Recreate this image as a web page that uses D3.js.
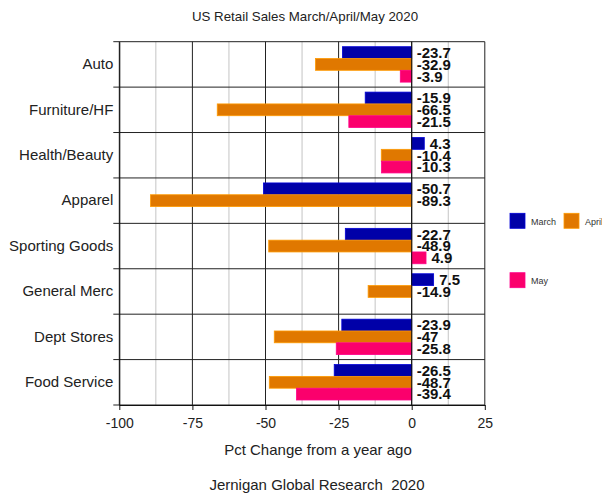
<!DOCTYPE html>
<html>
<head>
<meta charset="utf-8">
<script src="https://cdn.jsdelivr.net/npm/d3@7"></script>
<style>
  html, body { margin: 0; padding: 0; background: #fff; }
  svg { display: block; font-family: "Liberation Sans", Arial, sans-serif; }
</style>
</head>
<body>
<svg id="chart" width="602" height="494"></svg>
<script>
const categories = ["Auto", "Furniture/HF", "Health/Beauty", "Apparel", "Sporting Goods", "General Merc", "Dept Stores", "Food Service"];
const seriesNames = ["March", "April", "May"];
const march = [-23.7, -15.9, 4.3, -50.7, -22.7, 7.5, -23.9, -26.5];
const april = [-32.9, -66.5, -10.4, -89.3, -48.9, -14.9, -47, -48.7];
const may = [-3.9, -21.5, -10.3, null, 4.9, null, -25.8, -39.4];
const xTicks = [-100, -75, -50, -25, 0, 25];
const xMinorTicks = [-87.5, -62.5, -37.5, -12.5, 12.5];
const colors = ["#0000a8", "#e07800", "#fb006c"];

(function () {
const seriesValues = [march, april, may];
const svg = d3.select("#chart");

const pLeft = 119.3, pRight = 484.8, pTop = 41.7, pBottom = 405;
const x = d3.scaleLinear().domain([-100, 25]).range([pLeft, pRight]);
const y = d3.scaleBand().domain(categories).range([pTop, pBottom]).padding(0);
const inner = d3.scaleBand().domain(seriesNames).range([5, y.bandwidth() - 5]).padding(0);

// minor gridlines
svg.append("g").selectAll("line").data(xMinorTicks).join("line")
  .attr("x1", d => x(d)).attr("x2", d => x(d))
  .attr("y1", pTop).attr("y2", pBottom)
  .attr("stroke", "#c4c4c4").attr("stroke-width", 1);

// major gridlines
svg.append("g").selectAll("line").data(xTicks).join("line")
  .attr("x1", d => x(d)).attr("x2", d => x(d))
  .attr("y1", pTop).attr("y2", pBottom)
  .attr("stroke", "#222").attr("stroke-width", 1);

// band separators
const bounds = d3.range(categories.length + 1).map(i => pTop + i * y.step());
svg.append("g").selectAll("line").data(bounds).join("line")
  .attr("x1", pLeft - 6).attr("x2", pRight)
  .attr("y1", d => d).attr("y2", d => d)
  .attr("stroke", "#222").attr("stroke-width", 1);

// bars
const rows = [];
categories.forEach((c, i) => {
  seriesNames.forEach((s, j) => {
    const v = seriesValues[j][i];
    if (v !== null && v !== undefined) rows.push({ c, s, j, v });
  });
});

svg.append("g").selectAll("rect").data(rows).join("rect")
  .attr("x", d => x(Math.min(0, d.v)))
  .attr("width", d => Math.abs(x(d.v) - x(0)))
  .attr("y", d => y(d.c) + inner(d.s))
  .attr("height", inner.bandwidth())
  .attr("fill", d => colors[d.j])
  .attr("stroke", d => d3.color(colors[d.j]).brighter(0.7))
  .attr("stroke-width", 0.8);

// zero line on top
svg.append("line")
  .attr("x1", x(0)).attr("x2", x(0)).attr("y1", pTop).attr("y2", pBottom)
  .attr("stroke", "#111").attr("stroke-width", 1);

// value labels
svg.append("g").selectAll("text").data(rows).join("text")
  .attr("x", d => x(Math.max(0, d.v)) + (d.v > 0 ? 5.5 : 5))
  .attr("y", d => y(d.c) + inner(d.s) + inner.bandwidth() / 2)
  .attr("dy", "0.36em")
  .attr("font-size", 15)
  .attr("font-weight", "bold")
  .attr("fill", "#111")
  .text(d => String(d.v));

// x axis
const xAxis = svg.append("g")
  .attr("transform", `translate(0,${pBottom})`)
  .call(d3.axisBottom(x).tickValues(xTicks).tickFormat(d => String(d))
    .tickSize(5).tickPadding(8).tickSizeOuter(0));
xAxis.select(".domain").attr("stroke", "#111");
xAxis.selectAll(".tick line").attr("stroke", "#111");
xAxis.selectAll("text").attr("font-size", 14).attr("fill", "#222")
  .attr("font-family", "Liberation Sans, Arial, sans-serif");

// y axis labels
const yAxis = svg.append("g")
  .attr("transform", `translate(${pLeft},0)`)
  .call(d3.axisLeft(y).tickSize(0).tickPadding(6));
yAxis.select(".domain").attr("stroke", "#111");
yAxis.selectAll("text").attr("font-size", 15).attr("fill", "#222")
  .attr("font-family", "Liberation Sans, Arial, sans-serif");

// title
svg.append("text").attr("x", 305).attr("y", 20.5)
  .attr("text-anchor", "middle").attr("font-size", 13.3).attr("fill", "#222")
  .text("US Retail Sales March/April/May 2020");

svg.append("text").attr("x", 318).attr("y", 455)
  .attr("text-anchor", "middle").attr("font-size", 15).attr("fill", "#222")
  .text("Pct Change from a year ago");

svg.append("text").attr("x", 317).attr("y", 490)
  .attr("text-anchor", "middle").attr("font-size", 15).attr("fill", "#222")
  .style("white-space", "pre")
  .text("Jernigan Global Research  2020");

// legend
const legendPos = [[510, 213.3], [564, 213.3], [510, 272.7]];
const lg = svg.append("g").selectAll("g").data(seriesNames).join("g")
  .attr("transform", (d, i) => `translate(${legendPos[i][0]},${legendPos[i][1]})`);
lg.append("rect").attr("width", 15).attr("height", 15)
  .attr("fill", (d, i) => colors[i])
  .attr("stroke", (d, i) => d3.color(colors[i]).brighter(0.7)).attr("stroke-width", 0.8);
lg.append("text").attr("x", 21).attr("y", 8.5).attr("dy", "0.35em")
  .attr("font-size", 9).attr("fill", "#333").text(d => d);
})();
</script>
</body>
</html>
